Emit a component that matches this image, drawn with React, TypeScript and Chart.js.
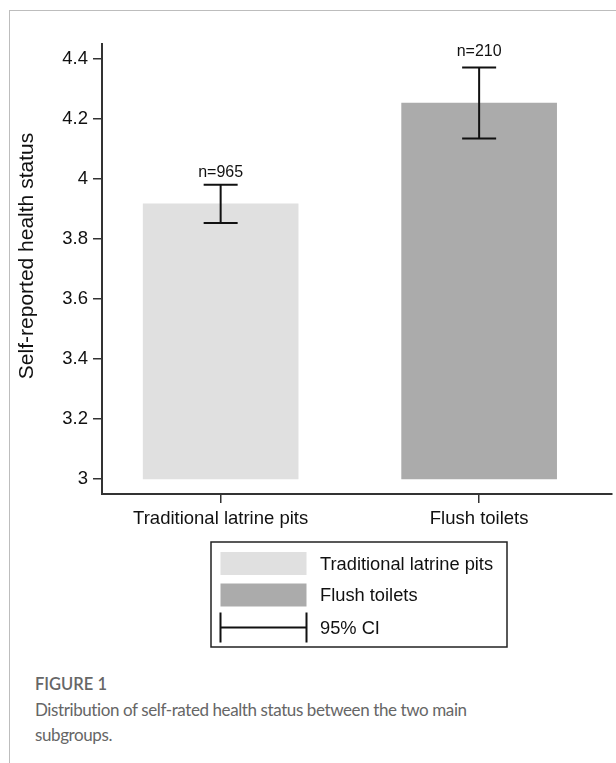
import { useEffect, useRef } from "react";
import { Chart, registerables } from "chart.js";

Chart.register(...registerables);

// ---- data ----
const categories = ["Traditional latrine pits", "Flush toilets"];
const xPositions = [1, 2];
const barBase = 3;
const means = [3.917, 4.253];
const ciLow = [3.853, 4.135];
const ciHigh = [3.981, 4.372];
const sampleLabels = ["n=965", "n=210"];
const sampleLabelValues = [4.023, 4.425];
const barColors = ["#e0e0e0", "#ababab"];
const yTicks = [3, 3.2, 3.4, 3.6, 3.8, 4, 4.2, 4.4];
const legendLabels = ["Traditional latrine pits", "Flush toilets", "95% CI"];
const yTitle = "Self-reported health status";
const figureTitle = "FIGURE 1";
const captionLines = [
  "Distribution of self-rated health status between the two main",
  "subgroups.",
];

const FONT = '"Liberation Sans", Arial, Helvetica, sans-serif';
const INK = "#111";

const errorBarPlugin = {
  id: "errorBars",
  afterDatasetsDraw(chart: any) {
    const { ctx } = chart;
    const x = chart.scales.x;
    const y = chart.scales.y;
    ctx.save();
    ctx.strokeStyle = INK;
    ctx.lineWidth = 2;
    xPositions.forEach((xv, i) => {
      const px = x.getPixelForValue(xv);
      const top = y.getPixelForValue(ciHigh[i]);
      const bot = y.getPixelForValue(ciLow[i]);
      const half = 17;
      ctx.beginPath();
      ctx.moveTo(px, top);
      ctx.lineTo(px, bot);
      ctx.moveTo(px - half, top);
      ctx.lineTo(px + half, top);
      ctx.moveTo(px - half, bot);
      ctx.lineTo(px + half, bot);
      ctx.stroke();
      ctx.font = `16px ${FONT}`;
      ctx.fillStyle = INK;
      ctx.textAlign = "center";
      ctx.textBaseline = "middle";
      ctx.fillText(sampleLabels[i], px, y.getPixelForValue(sampleLabelValues[i]));
    });
    ctx.restore();
  },
};

const yTitlePlugin = {
  id: "yTitleDraw",
  afterDraw(chart: any) {
    const { ctx, chartArea } = chart;
    ctx.save();
    ctx.translate(27, (chartArea.top + chartArea.bottom) / 2 - 13);
    ctx.rotate(-Math.PI / 2);
    ctx.font = `21px ${FONT}`;
    ctx.fillStyle = INK;
    ctx.textAlign = "center";
    ctx.textBaseline = "middle";
    ctx.fillText(yTitle, 0, 0);
    ctx.restore();
  },
};

const legendPlugin = {
  id: "boxLegend",
  afterDraw(chart: any) {
    const { ctx, chartArea } = chart;
    const boxW = 296;
    const boxH = 105;
    const bx = (chartArea.left + chartArea.right) / 2 - boxW / 2 + 2;
    const by = chartArea.bottom + 48;
    ctx.save();
    ctx.strokeStyle = "#222";
    ctx.lineWidth = 1.5;
    ctx.strokeRect(bx, by, boxW, boxH);
    const sx = bx + 9.5;
    const sw = 86;
    const rows = [by + 21.5, by + 53, by + 85.5];
    for (let i = 0; i < 2; i++) {
      ctx.fillStyle = barColors[i];
      ctx.fillRect(sx, rows[i] - 11.5, sw, 23);
    }
    ctx.strokeStyle = INK;
    ctx.lineWidth = 2;
    ctx.beginPath();
    ctx.moveTo(sx, rows[2] - 15);
    ctx.lineTo(sx, rows[2] + 15);
    ctx.moveTo(sx + sw, rows[2] - 15);
    ctx.lineTo(sx + sw, rows[2] + 15);
    ctx.moveTo(sx, rows[2]);
    ctx.lineTo(sx + sw, rows[2]);
    ctx.stroke();
    ctx.font = `18.3px ${FONT}`;
    ctx.fillStyle = INK;
    ctx.textAlign = "left";
    ctx.textBaseline = "middle";
    legendLabels.forEach((t, i) => {
      ctx.fillText(t, bx + 109, rows[i] + 1);
    });
    ctx.restore();
  },
};

export default function App() {
  const ref = useRef<HTMLCanvasElement | null>(null);

  useEffect(() => {
    document.body.style.margin = "0";
    document.body.style.overflow = "hidden";
    const canvas = ref.current;
    if (!canvas) return;
    const chart = new Chart(canvas, {
      type: "bar",
      data: {
        datasets: [
          {
            data: xPositions.map((xv, i) => ({ x: xv, y: [barBase, means[i]] })) as any,
            backgroundColor: barColors,
            borderWidth: 0,
            barThickness: 155,
          },
        ],
      },
      options: {
        responsive: false,
        animation: false,
        layout: { padding: { left: 0, right: 4, top: 44, bottom: 126 } },
        plugins: {
          legend: { display: false },
          tooltip: { enabled: false },
        },
        scales: {
          x: {
            type: "linear",
            min: 0.541,
            max: 2.514,
            offset: false,
            afterBuildTicks: (s: any) => {
              s.ticks = xPositions.map((v) => ({ value: v }));
            },
            afterFit: (s: any) => {
              s.height = 40;
            },
            ticks: {
              callback: (_v: any, i: number) => categories[i],
              font: { family: FONT, size: 18.5 },
              color: INK,
              padding: 5,
              maxRotation: 0,
              autoSkip: false,
            },
            grid: {
              display: true,
              drawOnChartArea: false,
              drawTicks: true,
              tickLength: 9,
              color: "#333",
              lineWidth: 1.5,
              offset: false,
            },
            border: { display: true, color: "#333", width: 2 },
          },
          y: {
            type: "linear",
            min: 2.95,
            max: 4.45,
            afterBuildTicks: (s: any) => {
              s.ticks = yTicks.map((v) => ({ value: v }));
            },
            afterFit: (s: any) => {
              s.width = 102;
            },
            ticks: {
              callback: (v: any) => String(v),
              font: { family: FONT, size: 18.5 },
              color: INK,
              padding: 5,
              autoSkip: false,
            },
            grid: {
              display: true,
              drawOnChartArea: false,
              drawTicks: true,
              tickLength: 9,
              color: "#333",
              lineWidth: 1.5,
            },
            border: { display: true, color: "#333", width: 2 },
          },
        },
      },
      plugins: [errorBarPlugin, yTitlePlugin, legendPlugin],
    } as any);
    return () => chart.destroy();
  }, []);

  return (
    <div>
      <div
        style={{
          position: "absolute",
          left: 9,
          top: 10,
          width: 607,
          height: 753,
          boxSizing: "border-box",
          borderLeft: "1.5px solid #bdbdbd",
          borderTop: "1.5px solid #bdbdbd",
        }}
      />
      <canvas
        ref={ref}
        width={616}
        height={660}
        style={{ position: "absolute", left: 0, top: 0, width: 616, height: 660 }}
      />
      <div
        style={{
          position: "absolute",
          left: 35,
          top: 675,
          fontFamily: "Lato, 'Open Sans', sans-serif",
          fontSize: 16.5,
          lineHeight: "19.2px",
          fontWeight: 600,
          color: "#666",
          whiteSpace: "nowrap",
        }}
      >
        {figureTitle}
      </div>
      <div
        style={{
          position: "absolute",
          left: 35,
          top: 697,
          fontFamily: "Lato, 'Open Sans', sans-serif",
          fontSize: 17,
          letterSpacing: "-0.4px",
          lineHeight: "25px",
          fontWeight: 400,
          color: "#666",
          whiteSpace: "nowrap",
        }}
      >
        {captionLines.map((l, i) => (
          <div key={i}>{l}</div>
        ))}
      </div>
    </div>
  );
}
